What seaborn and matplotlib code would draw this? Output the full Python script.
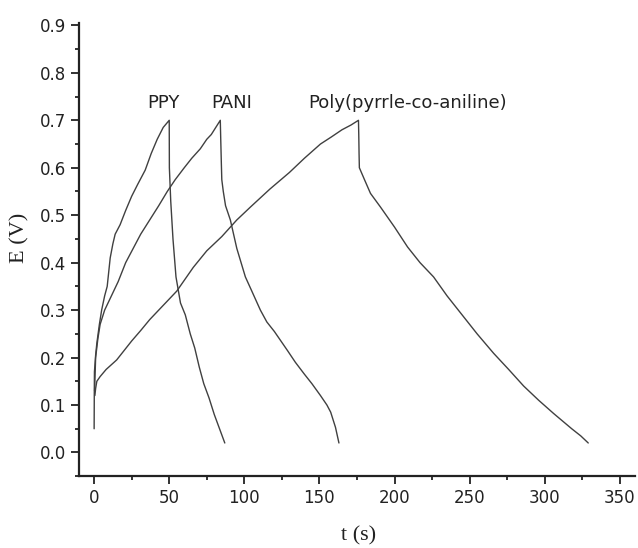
import matplotlib
matplotlib.use("Agg")
import matplotlib.pyplot as plt
import seaborn as sns
import pandas as pd
from matplotlib.ticker import MultipleLocator

# charge/discharge curves
ppy_t = [0, 0.1, 0.2, 1.0, 1.8, 3.5, 5, 7, 8.7, 10.7, 12.5, 14, 17.3, 21, 25, 29, 34, 38, 42, 46, 50,
         50.1, 51, 52.5, 54.5, 57.5, 60.7, 64, 67, 70, 73, 76.5, 80, 83.5, 87]
ppy_e = [0.05, 0.12, 0.17, 0.205, 0.23, 0.27, 0.30, 0.33, 0.35, 0.41, 0.44, 0.46, 0.48, 0.51, 0.54, 0.565, 0.595, 0.63, 0.66, 0.685, 0.70,
         0.60, 0.53, 0.45, 0.37, 0.315, 0.29, 0.25, 0.22, 0.18, 0.145, 0.115, 0.08, 0.05, 0.02]

pani_t = [0.3, 1, 2.5, 4, 7, 10, 13, 16, 21, 26, 31, 37, 43, 48.7, 54, 60, 65, 70.7, 75, 78, 81, 84,
          84.3, 84.7, 85, 86, 87.5, 90.7, 95, 100.7, 105, 110.7, 115, 120, 128.7, 134, 140, 145, 150.7, 155, 157.5, 160.7, 163]
pani_e = [0.13, 0.2, 0.24, 0.27, 0.30, 0.32, 0.34, 0.36, 0.40, 0.43, 0.46, 0.49, 0.52, 0.55, 0.575, 0.60, 0.62, 0.64, 0.66, 0.67, 0.685, 0.70,
          0.66, 0.61, 0.575, 0.55, 0.52, 0.49, 0.43, 0.37, 0.34, 0.30, 0.275, 0.255, 0.215, 0.19, 0.165, 0.145, 0.12, 0.10, 0.085, 0.053, 0.02]

poly_t = [0.5, 1.0, 1.8, 4, 8, 15, 20, 25, 31, 37, 46, 55, 66, 75, 85, 95, 104, 117, 130, 140, 150.7, 158, 165, 171, 176,
          176.2, 176.4, 176.6, 180, 184, 190.7, 200, 208.7, 217, 226, 235, 245, 255, 266, 276, 286, 296, 306, 312, 318, 324, 329]
poly_e = [0.12, 0.135, 0.15, 0.16, 0.175, 0.195, 0.215, 0.235, 0.257, 0.28, 0.31, 0.34, 0.39, 0.425, 0.455, 0.49, 0.517, 0.555, 0.59, 0.62, 0.65, 0.665, 0.68, 0.69, 0.70,
          0.67, 0.63, 0.60, 0.575, 0.546, 0.517, 0.475, 0.433, 0.40, 0.37, 0.33, 0.29, 0.25, 0.209, 0.175, 0.14, 0.11, 0.082, 0.066, 0.05, 0.035, 0.02]

labels = ["PPY", "PANI", "Poly(pyrrle-co-aniline)"]
label_t = [46, 91.3, 209]
label_e = [0.737, 0.737, 0.736]

df = pd.concat([
    pd.DataFrame({"t": ppy_t, "E": ppy_e, "s": "PPY"}),
    pd.DataFrame({"t": pani_t, "E": pani_e, "s": "PANI"}),
    pd.DataFrame({"t": poly_t, "E": poly_e, "s": "Poly"}),
])

sns.set_style("ticks")
plt.rcParams["font.family"] = ["DejaVu Sans"]

fig = plt.figure(figsize=(6.38, 5.48), dpi=100)
ax = fig.add_axes([0.124, 0.131, 0.871, 0.827])

for name in ["PPY", "PANI", "Poly"]:
    sub = df[df["s"] == name]
    sns.lineplot(data=sub, x="t", y="E", ax=ax, sort=False, estimator=None,
                 color="#404040", linewidth=1.0)

for lab, x, y in zip(labels, label_t, label_e):
    ax.text(x, y, lab, ha="center", va="center", fontsize=13, color="#222222")

ax.set_xlim(-10, 360)
ax.set_ylim(-0.05, 0.905)
ax.xaxis.set_major_locator(MultipleLocator(50))
ax.xaxis.set_minor_locator(MultipleLocator(25))
ax.yaxis.set_minor_locator(MultipleLocator(0.05))
ax.set_yticks([i / 10 for i in range(10)])
ax.set_yticklabels([f"{i / 10:.1f}" for i in range(10)])
ax.tick_params(axis="both", which="major", length=5.5, width=1.3, labelsize=12, colors="#222222", pad=4)
ax.tick_params(axis="both", which="minor", length=3, width=1.3, colors="#222222")
for sp in ["left", "bottom"]:
    ax.spines[sp].set_linewidth(1.6)
    ax.spines[sp].set_color("#222222")
sns.despine(ax=ax)

lab_fam = ["Liberation Serif", "DejaVu Serif"]
ax.set_xlabel("t (s)", fontsize=16, family=lab_fam, color="#222222")
ax.set_ylabel("E (V)", fontsize=16, family=lab_fam, color="#222222")
ax.xaxis.set_label_coords(0.502, -0.11)
ax.yaxis.set_label_coords(-0.09, 0.525)

fig.savefig("out.png", dpi=100)
